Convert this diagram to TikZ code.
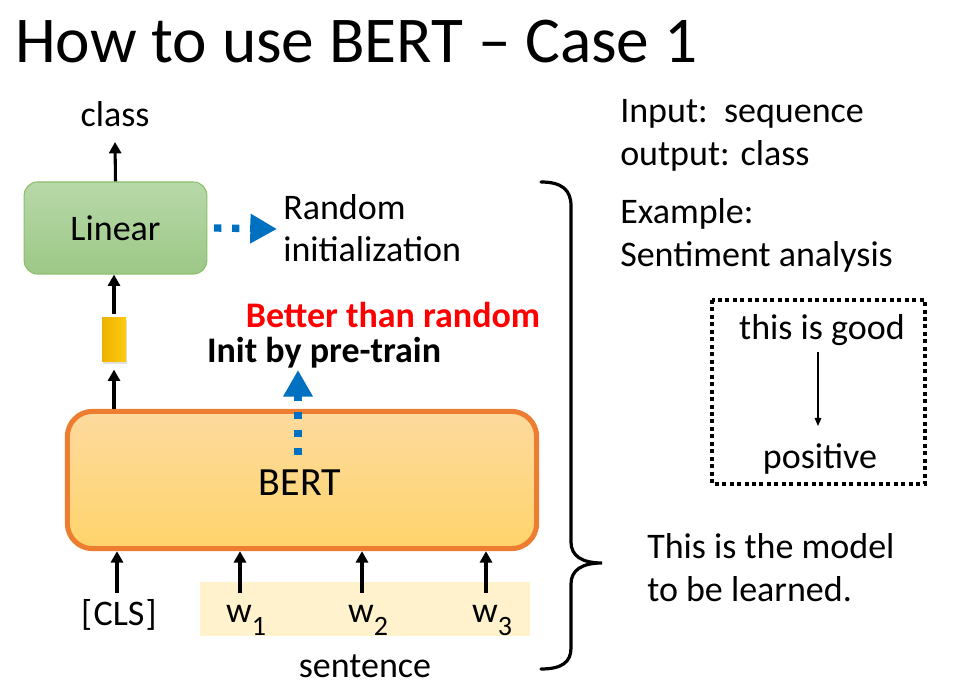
\documentclass[tikz,border=0pt]{standalone}
\usepackage{fontspec}
\setmainfont{Carlito}
\usetikzlibrary{arrows.meta}
\definecolor{bertedge}{HTML}{ED7D31}
\definecolor{berttop}{HTML}{FDDA9E}
\definecolor{bertbot}{HTML}{FFD46C}
\definecolor{lintop}{HTML}{B8D8A8}
\definecolor{linbot}{HTML}{9CC887}
\definecolor{linedge}{HTML}{8CBF6C}
\definecolor{bluearrow}{HTML}{0070C0}
\definecolor{sentbg}{HTML}{FFF2CC}
\definecolor{yelL}{HTML}{EDB200}
\definecolor{yelR}{HTML}{FFCA10}
\begin{document}
\begin{tikzpicture}[x=0.75pt,y=-0.75pt,
  body/.style={font=\fontsize{27}{31}\selectfont, inner sep=0pt},
  arr/.style={line width=2.3pt, -{Triangle[length=8.5pt,width=9pt]}},
  bluedot/.style={bluearrow, line width=5.5pt, dash pattern=on 5.5pt off 8pt,
    -{Triangle[length=20pt,width=21pt]}},
  thinarr/.style={line width=0.8pt, -{Triangle[length=6pt,width=5pt]}}]
\useasboundingbox (0,0) rectangle (958,698);

% title
\node[anchor=base west, inner sep=0pt, font=\fontsize{49}{58}\selectfont] (title) at (15,63) {How to use BERT -- Case 1};

% sentence background
\node[fill=sentbg, minimum width=247.5pt, minimum height=40.5pt, inner sep=0pt] (sentbox) at (365,609) {};

% BERT box
\node[draw=bertedge, line width=3.8pt, rounded corners=19pt, top color=berttop, bottom color=bertbot,
  minimum width=352pt, minimum height=103pt, inner sep=0pt] (bert) at (302,480) {};
\node[inner sep=0pt, font=\fontsize{30}{34}\selectfont] (berttext) at (300,483) {BERT};

% Linear box
\node[draw=linedge, line width=0.8pt, rounded corners=10pt, top color=lintop, bottom color=linbot,
  minimum width=137pt, minimum height=69pt, inner sep=0pt, font=\fontsize{27}{31}\selectfont] (linear) at (115.5,228) {Linear};

% yellow vector
\fill[black!12] (103,320) rectangle (127,364);
\node[left color=yelL, right color=yelR, minimum width=18pt, minimum height=33pt, inner sep=0pt] (vec) at (114,340) {};

% class label
\node[body, anchor=base] (class) at (115,127) {class};
\coordinate (classbot) at (115,142);

% arrows up
\draw[arr] (linear.north) -- (classbot);
\draw[arr] ([yshift=3pt]vec.north) -- (vec.north |- linear.south);
\draw[arr] (bert.north -| vec.south) -- ([yshift=-5.5pt]vec.south);

% Random initialization
\node[body, anchor=base west] (rand1) at (283,220) {Random};
\node[body, anchor=base west] (rand2) at (283,262) {initialization};
\coordinate (randtip) at (277,229);
\draw[bluedot] ([xshift=5pt]linear.east) -- (randtip);

% Better than random / Init by pre-train
\node[anchor=base, inner sep=0pt, font=\fontsize{27}{31}\selectfont\bfseries, text=red] (better) at (393,328) {Better than random};
\node[anchor=base, inner sep=0pt, font=\fontsize{27}{31}\selectfont\bfseries] (init) at (324,363) {Init by pre-train};
\coordinate (bluestart) at (298,455);
\coordinate (bluetip) at (298,370);
\draw[bluedot] (bluestart) -- (bluetip);

% inputs
\node[body, anchor=base] (cls) at (119,626) {[\kern1pt CLS\kern1pt]};
\node[body, anchor=base] (w1) at (246,623) {w\raisebox{-0.35em}{\fontsize{21}{22}\selectfont 1}};
\node[body, anchor=base] (w2) at (368,623) {w\raisebox{-0.35em}{\fontsize{21}{22}\selectfont 2}};
\node[body, anchor=base] (w3) at (492,623) {w\raisebox{-0.35em}{\fontsize{21}{22}\selectfont 3}};
\coordinate (clsfoot) at (117,593);
\coordinate (w1foot) at (240,593);
\coordinate (w2foot) at (362,593);
\coordinate (w3foot) at (486,593);
\draw[arr] (clsfoot) -- (clsfoot |- bert.south);
\draw[arr] (w1foot) -- (w1foot |- bert.south);
\draw[arr] (w2foot) -- (w2foot |- bert.south);
\draw[arr] (w3foot) -- (w3foot |- bert.south);
\node[body, anchor=base] (sentence) at (365,678) {sentence};

% brace
\draw[line width=2.4pt, line cap=round] (541,182) .. controls (562,182) and (571,190) .. (571,206)
  -- (571,542) .. controls (571,556) and (582,563) .. (602,563)
  .. controls (582,563) and (571,570) .. (571,584)
  -- (571,648) .. controls (571,662) and (562,669) .. (541,669);

% right texts
\node[body, anchor=base west] (input) at (620,123) {Input:\ \ sequence};
\node[body, anchor=base west] (output) at (620,166) {output: class};
\node[body, anchor=base west] (example) at (620,224) {Example:};
\node[body, anchor=base west] (senti) at (620,267) {Sentiment analysis};

% example box
\draw[line width=2.4pt, dash pattern=on 3pt off 2.6pt] (712,300) rectangle (925,484);
\node[body, anchor=base] (good) at (822,340) {this is good};
\node[body, anchor=base] (pos) at (820,469) {positive};
\coordinate (goodfoot) at (818,352);
\coordinate (postop) at (818,426);
\draw[thinarr] (goodfoot) -- (postop);

\node[body, anchor=base west] (model1) at (647,559) {This is the model};
\node[body, anchor=base west] (model2) at (647,602) {to be learned.};
\end{tikzpicture}
\end{document}
